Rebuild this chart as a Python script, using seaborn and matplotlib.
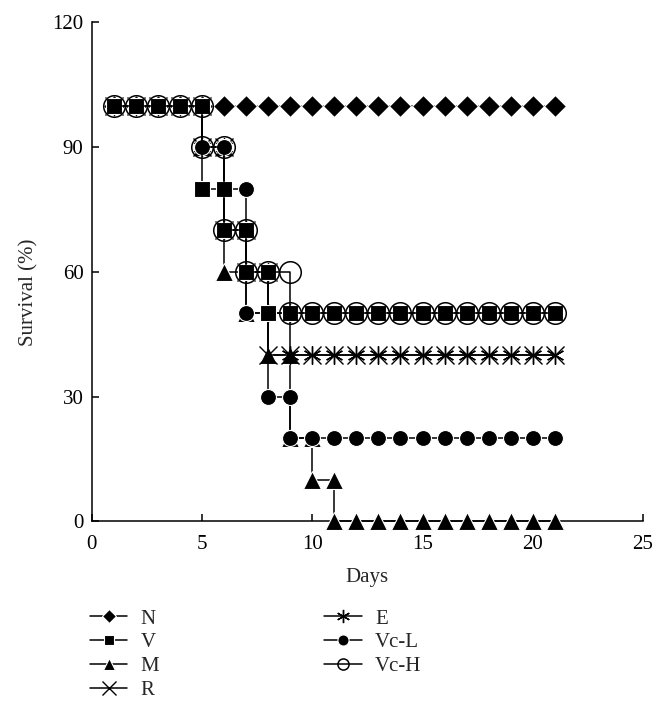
import numpy as np
import pandas as pd

import matplotlib
matplotlib.use('Agg')
import matplotlib.pyplot as plt
import seaborn as sns


# Survival (%) per group; a day appears twice where the curve steps down
days_N = [1, 2, 3, 4, 5, 6, 7, 8, 9, 10, 11, 12, 13, 14, 15, 16, 17, 18, 19, 20, 21]
surv_N = [100, 100, 100, 100, 100, 100, 100, 100, 100, 100, 100, 100, 100, 100, 100, 100, 100, 100, 100, 100, 100]

days_V = [1, 2, 3, 4, 5, 5, 6, 6, 7, 7, 8, 8, 9, 10, 11, 12, 13, 14, 15, 16, 17, 18, 19, 20, 21]
surv_V = [100, 100, 100, 100, 100, 80, 80, 70, 70, 60, 60, 50, 50, 50, 50, 50, 50, 50, 50, 50, 50, 50, 50, 50, 50]

days_M = [1, 2, 3, 4, 5, 5, 6, 6, 7, 7, 8, 8, 9, 9, 10, 10, 11, 11, 12, 13, 14, 15, 16, 17, 18, 19, 20, 21]
surv_M = [100, 100, 100, 100, 100, 90, 90, 60, 60, 50, 50, 40, 40, 20, 20, 10, 10, 0, 0, 0, 0, 0, 0, 0, 0, 0, 0, 0]

days_R = [1, 2, 3, 4, 5, 5, 6, 6, 7, 7, 8, 8, 9, 10, 11, 12, 13, 14, 15, 16, 17, 18, 19, 20, 21]
surv_R = [100, 100, 100, 100, 100, 90, 90, 70, 70, 60, 60, 40, 40, 40, 40, 40, 40, 40, 40, 40, 40, 40, 40, 40, 40]

days_E = [1, 2, 3, 4, 5, 5, 6, 6, 7, 7, 8, 8, 9, 9, 10, 11, 12, 13, 14, 15, 16, 17, 18, 19, 20, 21]
surv_E = [100, 100, 100, 100, 100, 90, 90, 70, 70, 60, 60, 50, 50, 40, 40, 40, 40, 40, 40, 40, 40, 40, 40, 40, 40, 40]

days_VcL = [1, 2, 3, 4, 5, 5, 6, 6, 7, 7, 8, 8, 9, 9, 10, 11, 12, 13, 14, 15, 16, 17, 18, 19, 20, 21]
surv_VcL = [100, 100, 100, 100, 100, 90, 90, 80, 80, 50, 50, 30, 30, 20, 20, 20, 20, 20, 20, 20, 20, 20, 20, 20, 20, 20]

days_VcH = [1, 2, 3, 4, 5, 5, 6, 6, 7, 7, 8, 9, 9, 10, 11, 12, 13, 14, 15, 16, 17, 18, 19, 20, 21]
surv_VcH = [100, 100, 100, 100, 100, 90, 90, 70, 70, 60, 60, 60, 50, 50, 50, 50, 50, 50, 50, 50, 50, 50, 50, 50, 50]

group_names = ['N', 'V', 'M', 'R', 'E', 'Vc-L', 'Vc-H']
x_ticks = [0, 5, 10, 15, 20, 25]
y_ticks = [0, 30, 60, 90, 120]


def survival_plot():
    '''
    Step survival curves for the seven groups, black markers on black lines.
    '''
    sns.set_style('ticks')
    plt.rcParams['font.family'] = ['Liberation Serif', 'DejaVu Serif']

    series = {'N': (days_N, surv_N), 'V': (days_V, surv_V), 'M': (days_M, surv_M),
              'R': (days_R, surv_R), 'E': (days_E, surv_E),
              'Vc-L': (days_VcL, surv_VcL), 'Vc-H': (days_VcH, surv_VcH)}

    # marker, size, face colour, edge colour, edge width, zorder, legend size
    styles = {'N': ('D', 11, 'black', 'white', 0.8, 2, 7),
              'V': ('s', 11.5, 'black', 'white', 0.8, 7, 7.5),
              'M': ('^', 13, 'black', 'white', 0.8, 3, 8.5),
              'R': ('x', 13, 'black', 'black', 1.0, 4, 9.5),
              'E': ((6, 2, 0), 13, 'black', 'black', 1.0, 5, 9.5),
              'Vc-L': ('o', 11.5, 'black', 'white', 0.8, 6, 8),
              'Vc-H': ('o', 15.5, 'none', 'black', 1.1, 8, 8)}

    fig = plt.figure(figsize=(6.65, 7.25), dpi=100)
    ax = fig.add_axes([0.138, 0.281, 0.829, 0.688])

    for name in group_names:
        days, surv = series[name]
        df = pd.DataFrame({'day': days, 'survival': surv})
        marker, ms, mfc, mec, mew, z, _ = styles[name]
        sns.lineplot(data=df, x='day', y='survival', ax=ax,
                     estimator=None, sort=False,
                     color='black', linewidth=1.1,
                     marker=marker, markersize=ms,
                     markerfacecolor=mfc, markeredgecolor=mec,
                     markeredgewidth=mew, zorder=z, label=name,
                     clip_on=False)

    ax.set(xlim=(0, 25), ylim=(0, 120), xticks=x_ticks, yticks=y_ticks)
    sns.despine(ax=ax)
    for side in ['left', 'bottom']:
        ax.spines[side].set_color('black')
        ax.spines[side].set_linewidth(1.1)
        ax.spines[side].set_zorder(1)
    ax.tick_params(direction='in', length=5, width=1.1, colors='black',
                   labelsize=15, pad=6)
    ax.tick_params(axis='x', pad=10)

    ax.set_xlabel('Days', fontsize=15)
    ax.set_ylabel('Survival (%)', fontsize=15)
    ax.xaxis.set_label_coords(0.5, -0.094)
    ax.yaxis.set_label_coords(-0.096, 0.46)

    leg = ax.legend(ncol=2, loc='upper left', bbox_to_anchor=(0.135, 0.16),
                    bbox_transform=fig.transFigure, frameon=False, fontsize=15,
                    handlelength=1.8, handletextpad=0.65, columnspacing=7.9,
                    labelspacing=0.2, borderpad=0, borderaxespad=0)
    for handle, name in zip(leg.legend_handles, group_names):
        handle.set_markersize(styles[name][6])

    fig.savefig('out.png', dpi=100)


survival_plot()
